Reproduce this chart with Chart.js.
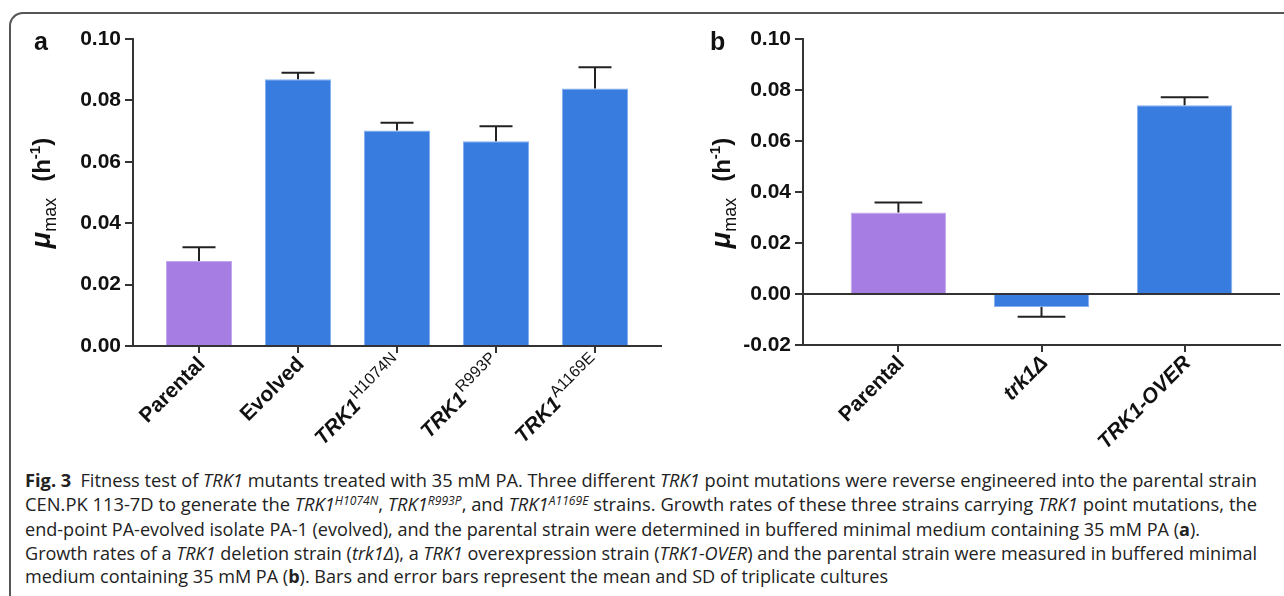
<!DOCTYPE html>
<html>
<head>
<meta charset="utf-8">
<script src="https://cdn.jsdelivr.net/npm/chart.js@4.4.0/dist/chart.umd.min.js"></script>
<style>
  body { margin: 0; background: #fff; }
  #page { position: relative; width: 1284px; height: 596px; overflow: hidden; background: #fff; }
  #frame { position: absolute; left: 9px; top: 12px; width: 1400px; height: 700px;
           border-top: 2px solid #555; border-left: 2px solid #555; border-top-left-radius: 14px; }
  #chartA { position: absolute; left: 0; top: 0; }
  #chartB { position: absolute; left: 680px; top: 0; }
  #caption { position: absolute; left: 25px; top: 469px; font-family: 'Open Sans', sans-serif;
             font-size: 18px; line-height: 23.5px; color: #222; }
  #caption div { white-space: nowrap; width: max-content; transform-origin: 0 50%; }
  #caption .sup { font-size: 0.66em; position: relative; top: -0.5em; font-style: italic; }
</style>
</head>
<body>
<div id="page">
  <div id="frame"></div>
  <canvas id="chartA" width="680" height="460"></canvas>
  <canvas id="chartB" width="604" height="460"></canvas>
  <div id="caption">
    <div><b>Fig. 3</b>&ensp;Fitness test of <i>TRK1</i> mutants treated with 35 mM PA. Three different <i>TRK1</i> point mutations were reverse engineered into the parental strain</div>
    <div>CEN.PK 113-7D to generate the <i>TRK1</i><span class="sup">H1074N</span>, <i>TRK1</i><span class="sup">R993P</span>, and <i>TRK1</i><span class="sup">A1169E</span> strains. Growth rates of these three strains carrying <i>TRK1</i> point mutations, the</div>
    <div>end-point PA-evolved isolate PA-1 (evolved), and the parental strain were determined in buffered minimal medium containing 35 mM PA (<b>a</b>).</div>
    <div>Growth rates of a <i>TRK1</i> deletion strain (<i>trk1Δ</i>), a <i>TRK1</i> overexpression strain (<i>TRK1-OVER</i>) and the parental strain were measured in buffered minimal</div>
    <div>medium containing 35 mM PA (<b>b</b>). Bars and error bars represent the mean and SD of triplicate cultures</div>
  </div>
</div>
<script>
// panel a data
const catsA = ['Parental', 'Evolved', 'TRK1^H1074N', 'TRK1^R993P', 'TRK1^A1169E'];
const meanA = [0.0277, 0.0869, 0.0702, 0.0667, 0.0839];
const sdA = [0.0045, 0.0021, 0.0025, 0.0049, 0.0069];
const ticksA = [0, 0.02, 0.04, 0.06, 0.08, 0.10];

// panel b data
const catsB = ['Parental', 'trk1Δ', 'TRK1-OVER'];
const meanB = [0.0320, -0.0051, 0.0740];
const sdB = [0.0039, 0.0038, 0.0032];
const ticksB = [-0.02, 0, 0.02, 0.04, 0.06, 0.08, 0.10];

const PURPLE = '#a67ee3';
const BLUE = '#387ce0';
const FONT = "'Liberation Sans', Arial, sans-serif";

Chart.defaults.font.family = FONT;
Chart.defaults.color = '#111';

// x category label, with superscript after '^'
function drawCatLabel(ctx, text, x, y) {
  const italic = /^(TRK1|trk1)/.test(text);
  const parts = text.split('^');
  const mainFont = (italic ? 'italic ' : '') + 'bold 21px ' + FONT;
  const supFont = '16px ' + FONT;
  ctx.save();
  ctx.translate(x, y);
  ctx.rotate(-Math.PI / 4);
  ctx.fillStyle = '#111';
  ctx.textBaseline = 'middle';
  ctx.textAlign = 'left';
  ctx.font = mainFont;
  const w1 = ctx.measureText(parts[0]).width;
  let w2 = 0;
  if (parts[1]) { ctx.font = supFont; w2 = ctx.measureText(parts[1]).width + 1; }
  ctx.font = mainFont;
  ctx.fillText(parts[0], -(w1 + w2), 0);
  if (parts[1]) { ctx.font = supFont; ctx.fillText(parts[1], -w2 + 1, -8); }
  ctx.restore();
}

// y title "μmax (h-1)" turned on its side
function drawYTitle(ctx, bx, cy) {
  const pieces = [
    { t: 'μ', f: 'italic bold 27px ' + FONT, dy: 0 },
    { t: 'max', f: '18px ' + FONT, dy: 6, gap: 16 },
    { t: '(h', f: 'bold 24px ' + FONT, dy: 0 },
    { t: '-1', f: 'bold 15px ' + FONT, dy: -10 },
    { t: ')', f: 'bold 24px ' + FONT, dy: 0 }
  ];
  ctx.save();
  let total = 0;
  pieces.forEach(p => { ctx.font = p.f; p.w = ctx.measureText(p.t).width; total += p.w + (p.gap || 0); });
  ctx.translate(bx, cy);
  ctx.rotate(-Math.PI / 2);
  ctx.fillStyle = '#111';
  ctx.textBaseline = 'alphabetic';
  let x = -total / 2;
  pieces.forEach(p => {
    ctx.font = p.f;
    ctx.fillText(p.t, x, p.dy);
    x += p.w + (p.gap || 0);
  });
  ctx.restore();
}

const extras = {
  id: 'extras',
  afterDatasetsDraw(chart, args, opts) {
    const ctx = chart.ctx;
    const ys = chart.scales.y;
    const meta = chart.getDatasetMeta(0);
    const vals = chart.data.datasets[0].data;
    ctx.save();
    ctx.strokeStyle = '#222';
    ctx.lineWidth = 2;
    meta.data.forEach((bar, i) => {
      const v = vals[i].y;
      const sd = opts.sd[i];
      const yEnd = ys.getPixelForValue(v + (v < 0 ? -sd : sd));
      const half = bar.width / 4;
      ctx.beginPath();
      ctx.moveTo(bar.x, bar.y);
      ctx.lineTo(bar.x, yEnd);
      ctx.moveTo(bar.x - half, yEnd);
      ctx.lineTo(bar.x + half, yEnd);
      ctx.stroke();
    });
    ctx.restore();
  },
  afterDraw(chart, args, opts) {
    const ctx = chart.ctx;
    const xs = chart.scales.x;
    const bottom = chart.chartArea.bottom;
    opts.cats.forEach((c, i) => {
      drawCatLabel(ctx, c, xs.getPixelForValue(i) + 3, bottom + 15);
    });
    drawYTitle(ctx, 50, 193);
    ctx.save();
    ctx.font = 'bold 25px ' + FONT;
    ctx.fillStyle = '#111';
    ctx.fillText(opts.panel, opts.panelX, 50);
    ctx.restore();
  }
};

function makeChart(id, cats, means, sds, yTicks, lay) {
  const colors = means.map((v, i) => i === 0 ? PURPLE : BLUE);
  const edges = means.map((v, i) => i === 0 ? '#c2a9ee' : '#86b0ee');
  return new Chart(document.getElementById(id), {
    type: 'bar',
    data: {
      datasets: [{
        data: means.map((v, i) => ({ x: i, y: v })),
        backgroundColor: colors,
        borderColor: edges,
        borderWidth: 1,
        categoryPercentage: 1,
        barPercentage: 0.667
      }]
    },
    options: {
      responsive: false,
      animation: false,
      layout: { padding: { left: 0, right: lay.right, top: 39, bottom: 0 } },
      scales: {
        x: {
          type: 'linear',
          offset: false,
          min: -2 / 3,
          max: cats.length - 1 + 2 / 3,
          afterBuildTicks: s => { s.ticks = cats.map((c, i) => ({ value: i })); },
          afterFit: s => { s.height = lay.bottomH; },
          ticks: { display: false },
          grid: { offset: false, drawOnChartArea: false, tickLength: 7, color: '#333', lineWidth: 2 },
          border: { color: '#333', width: 2 }
        },
        y: {
          min: yTicks[0],
          max: yTicks[yTicks.length - 1],
          afterBuildTicks: s => { s.ticks = yTicks.map(v => ({ value: v })); },
          afterFit: s => { s.width = lay.leftW; },
          ticks: {
            font: { size: 21, weight: 'bold' },
            color: '#111',
            padding: 4,
            callback: v => v.toFixed(2)
          },
          grid: {
            drawOnChartArea: lay.zeroLine,
            color: c => (c.tick && c.tick.value === 0) ? '#333' : 'rgba(0,0,0,0)',
            tickColor: '#333',
            tickLength: 8,
            lineWidth: 2
          },
          border: { color: '#333', width: 2 }
        }
      },
      plugins: {
        legend: { display: false },
        tooltip: { enabled: false },
        extras: { cats: cats, sd: sds, panel: lay.panel, panelX: lay.panelX }
      }
    },
    plugins: [extras]
  });
}

makeChart('chartA', catsA, meanA, sdA, ticksA, { leftW: 133, right: 19, bottomH: 114, zeroLine: false, panel: 'a', panelX: 34 });
makeChart('chartB', catsB, meanB, sdB, ticksB, { leftW: 123, right: 4, bottomH: 115, zeroLine: true, panel: 'b', panelX: 30 });

// squeeze caption lines to the widths of the original
const lineWidths = [1232, 1232, 1175, 1232, 863];
function fitCaption() {
  document.querySelectorAll('#caption div').forEach((d, i) => {
    d.style.transform = 'none';
    const w = d.getBoundingClientRect().width;
    d.style.transform = 'scaleX(' + (lineWidths[i] / w) + ')';
  });
}
fitCaption();
if (document.fonts) document.fonts.ready.then(fitCaption);
</script>
</body>
</html>
